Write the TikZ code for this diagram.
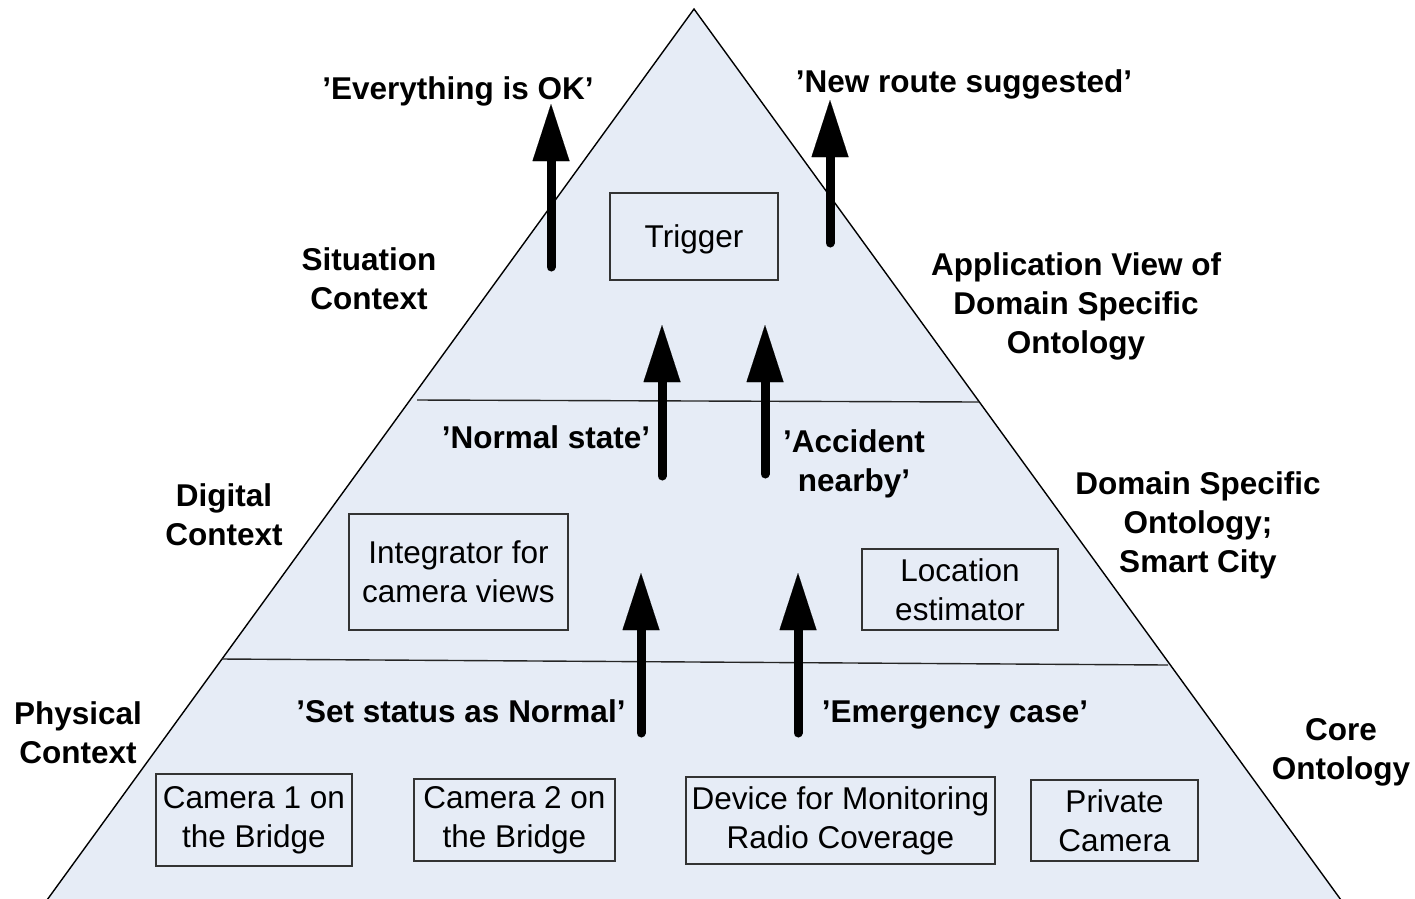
\documentclass[tikz,border=0pt]{standalone}
\usepackage{fontspec}
\setmainfont{Liberation Sans}
\usetikzlibrary{arrows.meta}
\definecolor{layerfill}{RGB}{230,236,246}
\tikzset{
  txt/.style={font=\fontsize{31.5}{39}\selectfont, align=center, inner sep=0pt},
  head/.style={txt, font=\fontsize{31.5}{39}\selectfont\bfseries},
  unitbox/.style={txt, draw=black!80, line width=1.1pt, anchor=center},
  bigarrow/.style={line width=9pt, line cap=round,
    -{Triangle[width=37pt,length=57pt,line width=0.01pt]}},
  divider/.style={draw=black!85, line width=1.4pt}
}
\begin{document}
\begin{tikzpicture}[x=1pt,y=-1pt]
\useasboundingbox (0,0) rectangle (1415,898);

% pyramid
\coordinate (apex) at (694,9);
\coordinate (bl) at (47,900);
\coordinate (br) at (1341,900);
\fill[layerfill] (bl) -- (apex) -- (br) -- cycle;
\draw[line width=1.4pt, line join=miter] (bl) -- (apex) -- (br);

% layer boundaries
\coordinate (d1l) at (417,400);
\coordinate (d1r) at (979,402);
\coordinate (d2l) at (222,659);
\coordinate (d2r) at (1168,665);
\draw[divider] (d1l) -- (d1r);
\draw[divider] (d2l) -- (d2r);

% side captions
\node[head] (situation) at (369,279) {Situation\\Context};
\node[head] (digital) at (224,515) {Digital\\Context};
\node[head] (physical) at (78,733) {Physical\\Context};
\node[head] (appview) at (1076,306) {Application View of\\Domain Specific\\Ontology};
\node[head] (smartcity) at (1198,525) {Domain Specific\\Ontology;\\Smart City};
\node[head] (core) at (1341,752) {Core\\Ontology};

% messages
\node[head] (ok) at (458,91) {’Everything is OK’};
\node[head] (route) at (964,84) {’New route suggested’};
\node[head] (normal) at (546,437) {’Normal state’};
\node[head] (accident) at (854,464) {’Accident\\nearby’};
\node[head] (setnormal) at (461,711) {’Set status as Normal’};
\node[head] (emergency) at (955,715) {’Emergency case’};

% components
\node[unitbox, text depth=0pt, minimum width=168pt, minimum height=87pt] (trigger) at (694,236.5) {Trigger};
\node[unitbox, minimum width=219pt, minimum height=116pt] (integrator) at (458.5,572) {Integrator for\\camera views};
\node[unitbox, minimum width=196pt, minimum height=81pt] (locest) at (960,589.5) {Location\\estimator};
\node[unitbox, minimum width=196pt, minimum height=92pt] (cam1) at (254,820) {Camera 1 on\\the Bridge};
\node[unitbox, minimum width=201pt, minimum height=82pt] (cam2) at (514.5,820) {Camera 2 on\\the Bridge};
\node[unitbox, minimum width=309pt, minimum height=87pt] (radio) at (840.5,820.5) {Device for Monitoring\\Radio Coverage};
\node[unitbox, minimum width=167pt, minimum height=81pt] (private) at (1114.5,820.5) {Private\\Camera};

% information flow upwards
\coordinate (f1s) at (551,267);
\coordinate (f1e) at (551,104);
\coordinate (f2s) at (830,243);
\coordinate (f2e) at (830,100);
\coordinate (f3s) at (662,476);
\coordinate (f3e) at (662,325);
\coordinate (f4s) at (765,474);
\coordinate (f4e) at (765,325);
\coordinate (f5s) at (641,733);
\coordinate (f5e) at (641,573);
\coordinate (f6s) at (798,733);
\coordinate (f6e) at (798,573);
\draw[bigarrow] (f1s) -- (f1e);
\draw[bigarrow] (f2s) -- (f2e);
\draw[bigarrow] (f3s) -- (f3e);
\draw[bigarrow] (f4s) -- (f4e);
\draw[bigarrow] (f5s) -- (f5e);
\draw[bigarrow] (f6s) -- (f6e);
\end{tikzpicture}
\end{document}
